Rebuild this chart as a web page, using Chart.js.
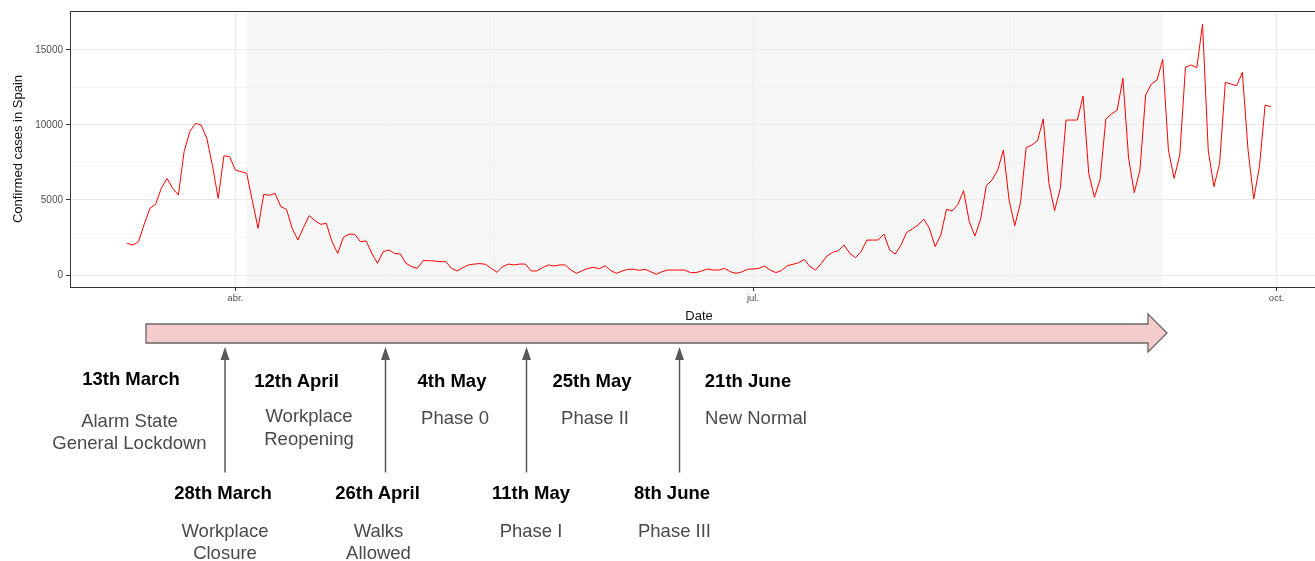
<!DOCTYPE html>
<html>
<head>
<meta charset="utf-8">
<script src="https://cdn.jsdelivr.net/npm/chart.js@4.4.1/dist/chart.umd.min.js"></script>
<style>
html,body{margin:0;padding:0;background:#fff;overflow:hidden;width:1315px;height:561px;}
#chart{position:absolute;left:0;top:0;}
#timeline{position:absolute;left:0;top:0;}
</style>
</head>
<body>
<canvas id="chart" width="1340" height="335"></canvas>
<svg id="timeline" width="1315" height="561" xmlns="http://www.w3.org/2000/svg"></svg>
<script>
// ---------------- data ----------------
const startDate = '2020-03-13';
const cases = [
  2110, 2000, 2220, 3400, 4440, 4710, 5780, 6440, 5780, 5330,
  8220, 9550, 10110, 10000, 9110, 7270, 5110, 7950, 7890, 7000,
  6890, 6780, 4960, 3110, 5380, 5310, 5440, 4560, 4380, 3110,
  2330, 3180, 3960, 3620, 3380, 3440, 2220, 1440, 2510, 2730,
  2710, 2220, 2270, 1440, 780, 1560, 1670, 1440, 1400, 780,
  560, 440, 960, 960, 930, 890, 890, 440, 270, 490,
  670, 730, 760, 710, 440, 180, 560, 730, 670, 730,
  730, 270, 270, 490, 670, 600, 670, 670, 330, 110,
  290, 440, 510, 420, 620, 290, 110, 270, 380, 380,
  310, 380, 220, 50, 220, 330, 330, 330, 330, 160,
  160, 270, 400, 330, 330, 440, 220, 110, 200, 380,
  400, 440, 600, 330, 160, 290, 620, 710, 820, 1040,
  560, 330, 780, 1270, 1510, 1620, 2000, 1440, 1160, 1560,
  2330, 2330, 2330, 2730, 1670, 1400, 2000, 2840, 3070, 3330,
  3730, 3110, 1890, 2670, 4380, 4270, 4700, 5620, 3560, 2600,
  3730, 5960, 6330, 7000, 8330, 5000, 3290, 4820, 8490, 8670,
  8960, 10400, 6110, 4290, 5780, 10330, 10330, 10330, 11930, 6780,
  5180, 6380, 10400, 10730, 11000, 13110, 7800, 5490, 7000, 12000,
  12730, 13000, 14380, 8330, 6440, 8000, 13850, 14000, 13820, 16730,
  8330, 5890, 7440, 12840, 12730, 12620, 13510, 8330, 5070, 7220,
  11330, 11220
];
// x tick positions (days since start) and labels
const xTickDays = [19, 110, 202];
const xTickLabels = ['abr.', 'jul.', 'oct.'];
const xMinorDays = [64.5, 156];
const yMajorTicks = [0, 5000, 10000, 15000];
const yMinorTicks = [2500, 7500, 12500];
// shaded period (days since start): 3 Apr -> 11 Sep
const shadeStartDay = 21;
const shadeEndDay = 182;

// timeline annotations
const milestoneDates = ['13th March', '28th March', '12th April', '26th April', '4th May', '11th May', '25th May', '8th June', '21th June'];
const milestoneTexts = [
  ['Alarm State', 'General Lockdown'],
  ['Workplace', 'Closure'],
  ['Workplace', 'Reopening'],
  ['Walks', 'Allowed'],
  ['Phase 0'],
  ['Phase I'],
  ['Phase II'],
  ['Phase III'],
  ['New Normal']
];

// ---------------- chart ----------------
const FONT = '"Liberation Sans", Arial, sans-serif';
const start = new Date(startDate + 'T00:00:00');
const dates = cases.map((_, i) => {
  const d = new Date(start.getTime() + i * 86400000);
  return d.toISOString().slice(0, 10);
});
const points = cases.map((v, i) => ({ x: i, y: v, date: dates[i] }));

const shadePlugin = {
  id: 'shade',
  beforeDraw(chart) {
    const { ctx, chartArea, scales } = chart;
    const x0 = scales.x.getPixelForValue(shadeStartDay);
    const x1 = scales.x.getPixelForValue(shadeEndDay);
    ctx.save();
    ctx.fillStyle = '#F7F7F7';
    ctx.fillRect(x0, chartArea.top, x1 - x0, chartArea.bottom - chartArea.top);
    ctx.restore();
  }
};
const borderPlugin = {
  id: 'panelBorder',
  afterDraw(chart) {
    const { ctx, chartArea } = chart;
    ctx.save();
    ctx.strokeStyle = '#333333';
    ctx.lineWidth = 1;
    const l = Math.round(chartArea.left) + 0.5, t = Math.round(chartArea.top) + 0.5;
    const r = Math.round(chartArea.right) + 0.5, b = Math.round(chartArea.bottom) + 0.5;
    ctx.strokeRect(l, t, r - l, b - t);
    ctx.restore();
  }
};

const isXMajor = v => xTickDays.includes(v);
const isYMajor = v => yMajorTicks.includes(v);

new Chart(document.getElementById('chart'), {
  type: 'line',
  data: {
    datasets: [{
      data: points,
      borderColor: '#FF0000',
      borderWidth: 1,
      pointRadius: 0,
      tension: 0,
      fill: false
    }]
  },
  options: {
    responsive: false,
    animation: false,
    devicePixelRatio: 1,
    parsing: { xAxisKey: 'x', yAxisKey: 'y' },
    layout: { padding: { left: 0, top: 11, right: 12, bottom: 0 } },
    plugins: { legend: { display: false }, tooltip: { enabled: false } },
    scales: {
      x: {
        type: 'linear',
        min: -10.05,
        max: 211.05,
        afterBuildTicks: s => {
          s.ticks = [...xTickDays, ...xMinorDays].sort((a, b) => a - b).map(v => ({ value: v }));
        },
        afterFit: s => { s.height = 48; },
        ticks: {
          autoSkip: false, maxRotation: 0, minRotation: 0, padding: 2,
          color: '#4D4D4D', font: { family: FONT, size: 9.5 },
          callback: v => { const i = xTickDays.indexOf(v); return i >= 0 ? xTickLabels[i] : ''; }
        },
        grid: {
          color: '#EBEBEB',
          lineWidth: c => (c.tick && isXMajor(c.tick.value)) ? 1 : 0.5,
          tickColor: c => (c.tick && isXMajor(c.tick.value)) ? '#333333' : 'rgba(0,0,0,0)',
          tickLength: 4,
          tickWidth: 1
        },
        border: { display: false },
        title: { display: true, text: 'Date', color: '#111', font: { family: FONT, size: 13 }, padding: { top: 0, bottom: 11 } }
      },
      y: {
        type: 'linear',
        min: -800,
        max: 17600,
        afterBuildTicks: s => {
          s.ticks = [...yMajorTicks, ...yMinorTicks].sort((a, b) => a - b).map(v => ({ value: v }));
        },
        afterFit: s => { s.width = 70; },
        ticks: {
          autoSkip: false, padding: 3,
          color: '#4D4D4D', font: { family: FONT, size: 10 },
          callback: v => isYMajor(v) ? String(v) : ''
        },
        grid: {
          color: '#EBEBEB',
          lineWidth: c => (c.tick && isYMajor(c.tick.value)) ? 1 : 0.5,
          tickColor: c => (c.tick && isYMajor(c.tick.value)) ? '#333333' : 'rgba(0,0,0,0)',
          tickLength: 4,
          tickWidth: 1
        },
        border: { display: false },
        title: { display: true, text: 'Confirmed cases in Spain', color: '#111', font: { family: FONT, size: 13 }, padding: { top: 10.5, bottom: 0 } }
      }
    }
  },
  plugins: [shadePlugin, borderPlugin]
});

// ---------------- timeline (drawn as SVG) ----------------
const svg = document.getElementById('timeline');
const NS = 'http://www.w3.org/2000/svg';
function el(name, attrs, text) {
  const e = document.createElementNS(NS, name);
  for (const k in attrs) e.setAttribute(k, attrs[k]);
  if (text !== undefined) e.textContent = text;
  svg.appendChild(e);
  return e;
}
// big arrow
el('polygon', { points: '146,324 1148,324 1148,314 1167,333 1148,352 1148,343 146,343', fill: '#F4CCCC', stroke: '#666666', 'stroke-width': 1.3 });
// small vertical arrows
const arrowXs = [225, 385.5, 526.5, 679.5];
arrowXs.forEach(x => {
  el('line', { x1: x, y1: 472.5, x2: x, y2: 358, stroke: '#595959', 'stroke-width': 1.5 });
  el('polygon', { points: `${x},347 ${x - 4.5},360 ${x + 4.5},360`, fill: '#595959' });
});
// label layout: [title center x, title baseline, desc center x, desc baselines]
const labelLayout = [
  [131, 384.5, 129.5, [426.5, 449]],
  [223, 499, 225, [537.3, 559]],
  [296.5, 386.5, 309, [422.3, 445]],
  [377.5, 499, 378.5, [537.3, 559]],
  [452, 386.5, 455, [424]],
  [531, 499, 531, [537]],
  [592, 386.5, 595, [424]],
  [672, 499, 674.5, [537]],
  [748, 386.5, 756, [424]]
];
milestoneDates.forEach((d, i) => {
  const [tx, ty, dx, dys] = labelLayout[i];
  el('text', { x: tx, y: ty, 'text-anchor': 'middle', 'font-family': FONT, 'font-size': 18.5, 'font-weight': 'bold', fill: '#000' }, d);
  milestoneTexts[i].forEach((t, j) => {
    el('text', { x: dx, y: dys[j], 'text-anchor': 'middle', 'font-family': FONT, 'font-size': 18.5, fill: '#4a4a4a' }, t);
  });
});
</script>
</body>
</html>
